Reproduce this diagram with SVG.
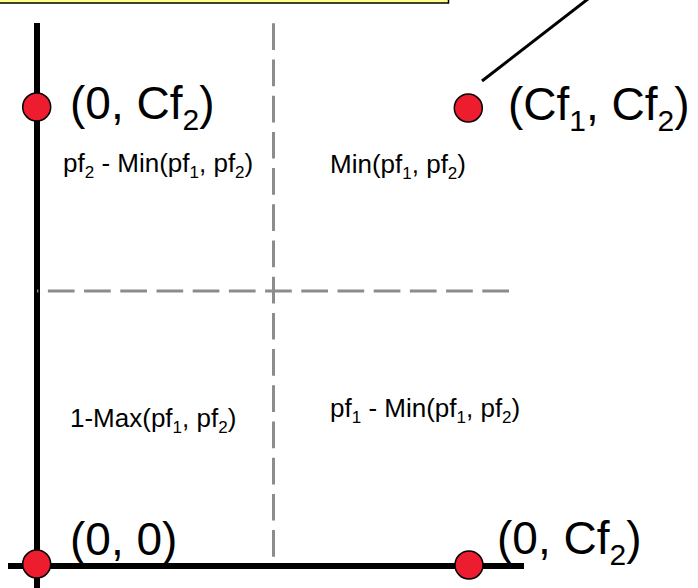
<svg xmlns="http://www.w3.org/2000/svg" width="698" height="588" viewBox="0 0 698 588">
<style>
.axis{stroke:#000;stroke-width:6;fill:none}
.dash{stroke:#8c8c8c;stroke-width:3;stroke-dasharray:26.7 9.5;fill:none}
.pt{fill:#ED1C2E;stroke:#000;stroke-width:1.5}
.big{font-family:"Liberation Sans",Arial,sans-serif;font-size:46px;fill:#000}
.small{font-family:"Liberation Sans",Arial,sans-serif;font-size:26px;fill:#000}
.bs{font-size:30px}
.ss{font-size:17px}
</style>
<g id="note">
<rect x="-10" y="-50" width="458.5" height="53" fill="#FFFF88" stroke="#000" stroke-width="1.5"/>
</g>
<g id="connectors">
<line class="axis" x1="37" y1="23" x2="37" y2="588"/>
<line class="axis" x1="8" y1="566" x2="524" y2="566"/>
<line class="dash" x1="273.5" y1="23.3" x2="273.5" y2="566"/>
<line class="dash" x1="509" y1="291" x2="37" y2="291"/>
<line stroke="#000" stroke-width="3" x1="482" y1="81" x2="597" y2="-8"/>
</g>
<g id="p00">
<circle class="pt" cx="36.7" cy="564" r="14"/>
<text class="big" x="70" y="555">(0, 0)</text>
</g>
<g id="p0cf2">
<circle class="pt" cx="36.7" cy="107" r="14"/>
<text class="big" x="70" y="119">(0, Cf<tspan class="bs" dy="11">2</tspan><tspan dy="-11">)</tspan></text>
</g>
<g id="pcf1cf2">
<circle class="pt" cx="468.3" cy="108" r="14"/>
<text class="big" x="508" y="120">(Cf<tspan class="bs" dy="11">1</tspan><tspan dy="-11">, Cf</tspan><tspan class="bs" dy="11">2</tspan><tspan dy="-11">)</tspan></text>
</g>
<g id="pcf10">
<circle class="pt" cx="469" cy="565" r="14"/>
<text class="big" x="497" y="554">(0, Cf<tspan class="bs" dy="11">2</tspan><tspan dy="-11">)</tspan></text>
</g>
<g id="q-topleft">
<text class="small" x="63" y="172">pf<tspan class="ss" dy="6">2</tspan><tspan dy="-6"> - Min(pf</tspan><tspan class="ss" dy="6">1</tspan><tspan dy="-6">, pf</tspan><tspan class="ss" dy="6">2</tspan><tspan dy="-6">)</tspan></text>
</g>
<g id="q-topright">
<text class="small" x="330" y="173">Min(pf<tspan class="ss" dy="6">1</tspan><tspan dy="-6">, pf</tspan><tspan class="ss" dy="6">2</tspan><tspan dy="-6">)</tspan></text>
</g>
<g id="q-bottomleft">
<text class="small" x="70" y="427">1-Max(pf<tspan class="ss" dy="6">1</tspan><tspan dy="-6">, pf</tspan><tspan class="ss" dy="6">2</tspan><tspan dy="-6">)</tspan></text>
</g>
<g id="q-bottomright">
<text class="small" x="330" y="417">pf<tspan class="ss" dy="6">1</tspan><tspan dy="-6"> - Min(pf</tspan><tspan class="ss" dy="6">1</tspan><tspan dy="-6">, pf</tspan><tspan class="ss" dy="6">2</tspan><tspan dy="-6">)</tspan></text>
</g>
</svg>
